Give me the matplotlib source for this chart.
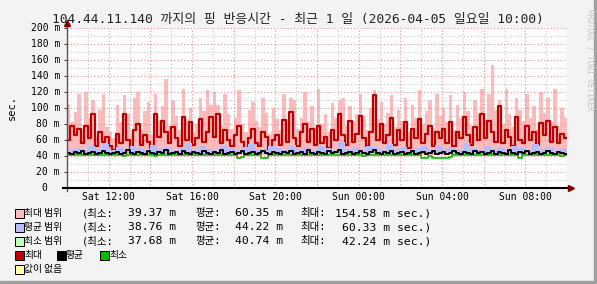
import numpy as np
import pandas as pd
import matplotlib
matplotlib.use('Agg')
import matplotlib.pyplot as plt
import matplotlib.dates as mdates
import matplotlib.transforms as mtransforms
from matplotlib.patches import Rectangle

MONO = ['DejaVu Sans Mono', 'Noto Sans CJK KR']
KR = ['Noto Sans CJK KR', 'DejaVu Sans Mono']

# 10-minute samples, Sat 10:00 -> Sun 10:00
t10 = pd.date_range('2026-04-04 10:00', periods=145, freq='10min').to_numpy()
t20 = pd.date_range('2026-04-04 10:00', periods=73, freq='20min').to_numpy()

max_range_hi = [
    105, 82, 95, 118, 72, 120, 88, 110, 64, 98, 118, 76,
    70, 62, 104, 82, 116, 92, 68, 112, 120, 74, 96, 108,
    66, 118, 84, 102, 136, 78, 110, 90, 72, 124, 86, 100,
    70, 80, 112, 96, 122, 104, 120, 104, 78, 118, 92, 74,
    88, 122, 80, 70, 98, 108, 84, 76, 112, 94, 68, 100,
    86, 72, 118, 80, 112, 110, 74, 88, 120, 84, 102, 76,
    124, 80, 92, 70, 106, 88, 110, 112, 78, 102, 84, 92,
    118, 90, 72, 100, 123, 86, 108, 80, 94, 116, 76, 98,
    84, 112, 70, 104, 88, 122, 80, 96, 110, 74, 118, 90,
    100, 82, 116, 72, 104, 88, 120, 96, 78, 110, 92, 124,
    86, 118, 154, 98, 110, 80, 124, 92, 76, 112, 98, 84,
    118, 88, 102, 74, 120, 94, 112, 82, 124, 78, 100, 88,
]

max_line = [
    60, 78, 66, 74, 56, 77, 62, 93, 52, 70, 58, 64,
    52, 48, 68, 56, 93, 60, 50, 72, 80, 54, 66, 58,
    50, 93, 64, 84, 70, 56, 76, 62, 52, 89, 60, 83,
    54, 62, 86, 58, 70, 89, 64, 93, 56, 72, 60, 52,
    66, 78, 58, 50, 62, 74, 56, 52, 70, 64, 48, 60,
    66, 54, 85, 58, 95, 62, 52, 70, 80, 58, 74, 54,
    78, 56, 64, 50, 72, 60, 93, 66, 54, 84, 58, 68,
    90, 62, 52, 70, 116, 60, 80, 56, 66, 88, 54, 72,
    60, 82, 50, 74, 62, 86, 56, 68, 78, 52, 70, 62,
    74, 56, 82, 52, 70, 62, 89, 66, 54, 76, 60, 93,
    62, 84, 70, 58, 102, 56, 72, 64, 52, 89, 60, 56,
    78, 60, 70, 54, 81, 66, 84, 58, 76, 56, 68, 62,
]

avg_range_hi = [
    48, 50, 47, 52, 49, 55, 48, 51, 47, 53, 50, 48,
    54, 49, 51, 47, 50, 56, 48, 52, 49, 47, 53, 50,
    48, 51, 55, 49, 47, 52, 50, 48, 54, 49, 51, 47,
    52, 50, 48, 57, 49, 51, 47, 53, 50, 48, 55, 49,
    51, 47, 50, 52, 48, 54, 49, 51, 47, 56, 50, 48,
    52, 49, 51, 47, 53, 50, 48, 55, 49, 51, 48, 50,
]

avg_line = [
    44, 43, 45, 44, 46, 43, 44, 45, 43, 44, 46, 44,
    43, 44, 45, 43, 44, 47, 44, 43, 45, 44, 43, 46,
    44, 43, 45, 44, 47, 43, 44, 45, 43, 46, 44, 43,
    45, 44, 43, 46, 44, 43, 45, 44, 47, 43, 44, 45,
    43, 44, 46, 43, 44, 45, 43, 44, 46, 44, 43, 45,
    44, 43, 45, 44, 46, 43, 44, 45, 43, 47, 44, 43,
    45, 44, 43, 46, 44, 45, 47, 43, 44, 45, 43, 44,
    46, 44, 43, 45, 47, 44, 43, 45, 44, 46, 43, 44,
    45, 43, 44, 46, 43, 44, 45, 43, 44, 46, 43, 44,
    45, 43, 44, 46, 44, 43, 45, 44, 43, 46, 44, 45,
    43, 44, 46, 43, 45, 44, 43, 47, 44, 43, 45, 44,
    46, 43, 44, 45, 43, 44, 46, 44, 43, 45, 44, 43,
]

min_line = [
    41, 41, 41, 41, 41, 41, 41, 41, 41, 41, 41, 41,
    41, 41, 41, 41, 40, 41, 41, 41, 41, 41, 41, 41,
    41, 40, 41, 41, 41, 41, 41, 41, 41, 41, 41, 41,
    41, 41, 41, 41, 41, 41, 41, 41, 41, 41, 41, 41,
    41, 38, 39, 41, 41, 41, 41, 41, 37, 37, 41, 41,
    41, 41, 41, 41, 41, 41, 41, 41, 41, 41, 41, 41,
    41, 41, 41, 41, 41, 41, 41, 41, 41, 41, 41, 41,
    41, 40, 41, 41, 41, 41, 41, 41, 41, 41, 41, 41,
    41, 41, 41, 41, 41, 41, 38, 38, 40, 38, 38, 37,
    38, 37, 39, 41, 41, 41, 41, 41, 41, 41, 41, 41,
    41, 41, 41, 41, 41, 41, 41, 41, 41, 41, 37, 41,
    41, 41, 41, 41, 41, 41, 41, 41, 41, 41, 40, 41,
]

legend_rows = [
    ('최대 범위', '#FFBBBB', '39.37 m', '60.35 m', '154.58 m sec.)'),
    ('평균 범위', '#BBBBFF', '38.76 m', '44.22 m', '60.33 m sec.)'),
    ('최소 범위', '#BBFFBB', '37.68 m', '40.74 m', '42.24 m sec.)'),
]
line_keys = [('최대', '#BB0000'), ('평균', '#000000'), ('최소', '#00BB00')]
y_ticks = list(range(0, 201, 20))

W, H = 597, 284


def edge(v):
    # repeat last value so the last step reaches the right edge
    return np.append(v, v[-1])


fig = plt.figure(figsize=(W / 100, H / 100), dpi=100, facecolor='#F3F3F3')
ax = fig.add_axes([67 / W, 1 - 188 / H, 500 / W, 160 / H])
ax.set_facecolor('white')

# data
ax.fill_between(t10, 41, edge(max_range_hi), step='post', color='#FFBBBB', lw=0, zorder=2)
ax.step(t10, edge(max_line), where='post', color='#BB0000', lw=1.6, zorder=3)
ax.fill_between(t20, 42, edge(avg_range_hi), step='post', color='#BBBBFF', lw=0, zorder=4)
ax.step(t10, edge(min_line), where='post', color='#00BB00', lw=1.2, zorder=5)
ax.step(t10, edge(avg_line), where='post', color='black', lw=1.4, zorder=6)

ax.set_xlim(t10[0], t10[-1])
ax.set_ylim(0, 200)

# grid: red every 2 h / 20 m, grey every 1 h / 10 m
ax.xaxis.set_major_locator(mdates.HourLocator(byhour=range(0, 24, 2)))
ax.xaxis.set_minor_locator(mdates.HourLocator())


def fmt_hour(x, pos):
    d = mdates.num2date(x)
    return d.strftime('%a %H:%M') if d.hour % 4 == 0 else ''


ax.xaxis.set_major_formatter(plt.FuncFormatter(fmt_hour))
ax.set_yticks(y_ticks)
ax.set_yticks(range(10, 200, 20), minor=True)
ax.set_yticklabels([])
ax.grid(which='major', color='#F08C8C', linestyle=(0, (1, 2)), lw=0.8, zorder=7)
ax.grid(which='minor', color='#C4C4C4', linestyle=(0, (1, 2)), lw=0.8, zorder=7)
ax.set_axisbelow(False)
ax.tick_params(axis='x', which='both', length=0, pad=3, labelsize=7)
for lab in ax.get_xticklabels():
    lab.set_family(MONO)
ax.tick_params(axis='y', which='major', length=2, width=0.8, color='#404040')
ax.tick_params(axis='y', which='minor', length=0)

for s in ax.spines.values():
    s.set_visible(False)

# axes lines with arrows
ax.plot([0, 0], [-0.02, 1.02], transform=ax.transAxes, color='#555555', lw=1, clip_on=False, zorder=8)
ax.plot([-0.008, 1.006], [0, 0], transform=ax.transAxes, color='black', lw=1.5, clip_on=False, zorder=8)
ax.plot([0], [1.03], marker='^', ms=4, color='#7A0000', transform=ax.transAxes, clip_on=False, zorder=9)
ax.plot([1.008], [0], marker='>', ms=4, color='#7A0000', transform=ax.transAxes, clip_on=False, zorder=9)

# y labels
blend = mtransforms.blended_transform_factory(ax.transAxes, ax.transData)
for v in y_ticks:
    if v:
        ax.text(-7 / 500, v, f'{v} m', transform=blend, ha='right', va='center', fontsize=7, family=MONO)
    else:
        ax.text(-20 / 500, v, '0', transform=blend, ha='right', va='center', fontsize=7, family=MONO)


def fx(px):
    return px / W


def fy(py):
    return 1 - py / H


fig.text(fx(298), fy(19), '104.44.11.140 까지의 핑 반응시간 - 최근 1 일 (2026-04-05 일요일 10:00)',
         ha='center', va='center', fontsize=9.3, family=MONO, color='#222222')
fig.text(fx(12), fy(108), 'sec.', rotation=90, ha='center', va='center', fontsize=7.5, family=MONO)
fig.text(fx(590), fy(60), 'RRDTOOL / TOBI OETIKER', rotation=270, ha='center', va='center',
         fontsize=5.5, family=MONO, color='#C4C4C4')

# legend
def box(px, py, color):
    fig.patches.append(Rectangle((fx(px), fy(py + 4.5)), 8.5 / W, 9 / H, transform=fig.transFigure,
                                 facecolor=color, edgecolor='black', lw=0.7))


for k, (name, color, mn, av, mx) in enumerate(legend_rows):
    py = 213 + 14 * k
    box(15, py, color)
    fig.text(fx(24), fy(py), name, va='center', fontsize=7, family=KR)
    fig.text(fx(82), fy(py), '(최소:', va='center', fontsize=7.5, family=MONO)
    fig.text(fx(128), fy(py), mn, va='center', fontsize=8.2, family=MONO)
    fig.text(fx(195), fy(py), '평균:', va='center', fontsize=7.5, family=MONO)
    fig.text(fx(235), fy(py), av, va='center', fontsize=8.2, family=MONO)
    fig.text(fx(300), fy(py), '최대:', va='center', fontsize=7.5, family=MONO)
    fig.text(fx(431), fy(py), mx, va='center', ha='right', fontsize=8.2, family=MONO)

for (name, color), px in zip(line_keys, [15, 57, 100]):
    box(px, 255, color)
    fig.text(fx(px + 9), fy(255), name, va='center', fontsize=7, family=KR)

box(15, 269, '#FFFFAA')
fig.text(fx(24), fy(269), '값이 없음', va='center', fontsize=7, family=KR)

# frame shading
fig.patches.append(Rectangle((0, 0), 1, 3 / H, transform=fig.transFigure, color='#A0A0A0'))
fig.patches.append(Rectangle((1 - 3 / W, 0), 3 / W, 1, transform=fig.transFigure, color='#A0A0A0'))

fig.savefig('out.png', dpi=100, facecolor=fig.get_facecolor())
